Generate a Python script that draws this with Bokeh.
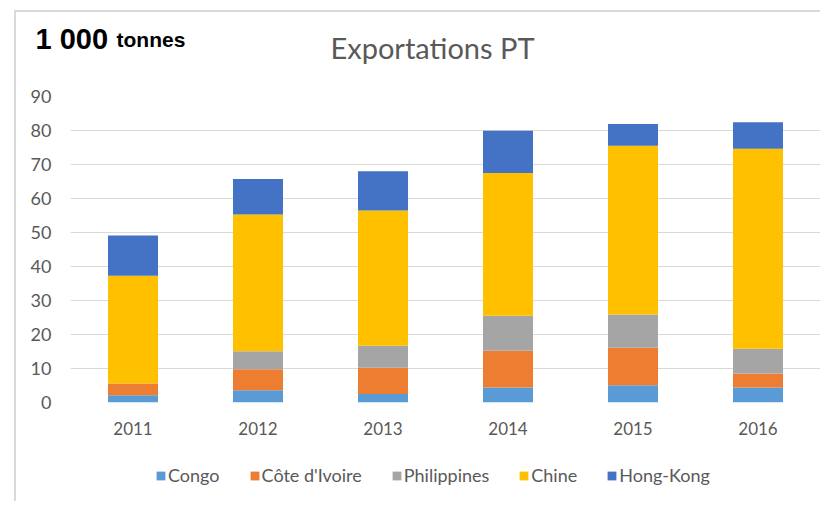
from bokeh.plotting import figure
from bokeh.models import Label, Legend, LegendItem, FixedTicker, Range1d
from bokeh.embed import file_html
from bokeh.resources import INLINE

years = ["2011", "2012", "2013", "2014", "2015", "2016"]
series = ["Congo", "Côte d'Ivoire", "Philippines", "Chine", "Hong-Kong"]
congo = [2.1, 3.6, 2.5, 4.4, 5.1, 4.4]
cote = [3.5, 6.2, 7.7, 10.8, 11.0, 4.1]
philippines = [0.0, 5.3, 6.5, 10.3, 9.8, 7.3]
chine = [31.7, 40.2, 39.8, 42.0, 49.6, 58.8]
hongkong = [11.8, 10.4, 11.5, 12.4, 6.4, 7.8]
y_ticks = [0, 10, 20, 30, 40, 50, 60, 70, 80, 90]
colors = ["#5B9BD5", "#ED7D31", "#A5A5A5", "#FFC000", "#4472C4"]

data = {"years": years}
for name, vals in zip(series, [congo, cote, philippines, chine, hongkong]):
    data[name] = vals

FONT = "Lato"
GREY = "#595959"
BORDER = "2px solid #d9d9d9"
W = 806


def blank(fig):
    fig.outline_line_color = None
    fig.xgrid.grid_line_color = None
    fig.ygrid.grid_line_color = None
    fig.min_border_left = 0
    fig.min_border_right = 0
    fig.min_border_top = 0
    fig.min_border_bottom = 0


# ---- top strip: titles ----
top = figure(width=W, height=76, output_backend="svg", toolbar_location=None,
             x_range=Range1d(16, 822), y_range=Range1d(86, 12),
             x_axis_location=None, y_axis_location=None)
blank(top)
top.styles = {"margin-left": "14px", "margin-top": "10px",
              "border-left": BORDER, "border-top": BORDER}
top.add_layout(Label(x=35, y=38, text="1 000", text_align="left", text_baseline="alphabetic",
                     text_font="Liberation Sans", text_font_size="29px",
                     text_font_style="bold", text_color="black"))
top.add_layout(Label(x=116, y=38, text="tonnes", text_align="left", text_baseline="alphabetic",
                     text_font="Liberation Sans", text_font_size="21px",
                     text_font_style="bold", text_color="black"))
top.add_layout(Label(x=432, y=46.5, text="Exportations PT", text_align="center",
                     text_baseline="alphabetic", text_font=FONT, text_font_size="29px",
                     text_color=GREY))

# ---- main chart ----
p = figure(x_range=years, y_range=(0, 90), width=W, height=364,
           output_backend="svg", toolbar_location=None,
           min_border_left=54, min_border_right=2, min_border_top=10, min_border_bottom=48)
p.styles = {"margin-left": "14px", "border-left": BORDER}
p.outline_line_color = None
p.x_range.range_padding = 0

p.vbar_stack(series, x="years", width=0.4, color=colors, source=data, line_color=None)

p.xgrid.grid_line_color = None
p.ygrid.grid_line_color = "#d9d9d9"
p.ygrid.grid_line_width = 1

p.yaxis.ticker = FixedTicker(ticks=y_ticks)
for ax in (p.xaxis, p.yaxis):
    ax.axis_line_color = None
    ax.major_tick_line_color = None
    ax.minor_tick_line_color = None
    ax.major_tick_out = 0
    ax.major_tick_in = 0
    ax.major_label_text_color = GREY
    ax.major_label_text_font = FONT
p.yaxis.major_label_text_font_size = "18px"
p.yaxis.major_label_standoff = 19
p.xaxis.major_label_text_font_size = "17px"
p.xaxis.major_label_standoff = 19

# ---- bottom strip: legend (swatches come from the same stacked series, kept out of view) ----
bot = figure(width=W, height=51, output_backend="svg", toolbar_location=None,
             x_range=years, y_range=Range1d(1000, 1001),
             x_axis_location=None, y_axis_location=None)
blank(bot)
bot.styles = {"margin-left": "14px", "border-left": BORDER}
legend_renderers = bot.vbar_stack(series, x="years", width=0.4, color=colors, source=data,
                                  line_color=None)
legend = Legend(items=[LegendItem(label=s, renderers=[r])
                       for s, r in zip(series, legend_renderers)],
                orientation="horizontal", location=(139, 15),
                glyph_width=11, glyph_height=11, label_standoff=2, spacing=29,
                label_height=22, padding=0, margin=0, border_line_color=None,
                background_fill_alpha=0, label_text_font=FONT,
                label_text_font_size="18px", label_text_color=GREY)
bot.add_layout(legend)

open("out.html", "w").write(file_html([top, p, bot], INLINE))
